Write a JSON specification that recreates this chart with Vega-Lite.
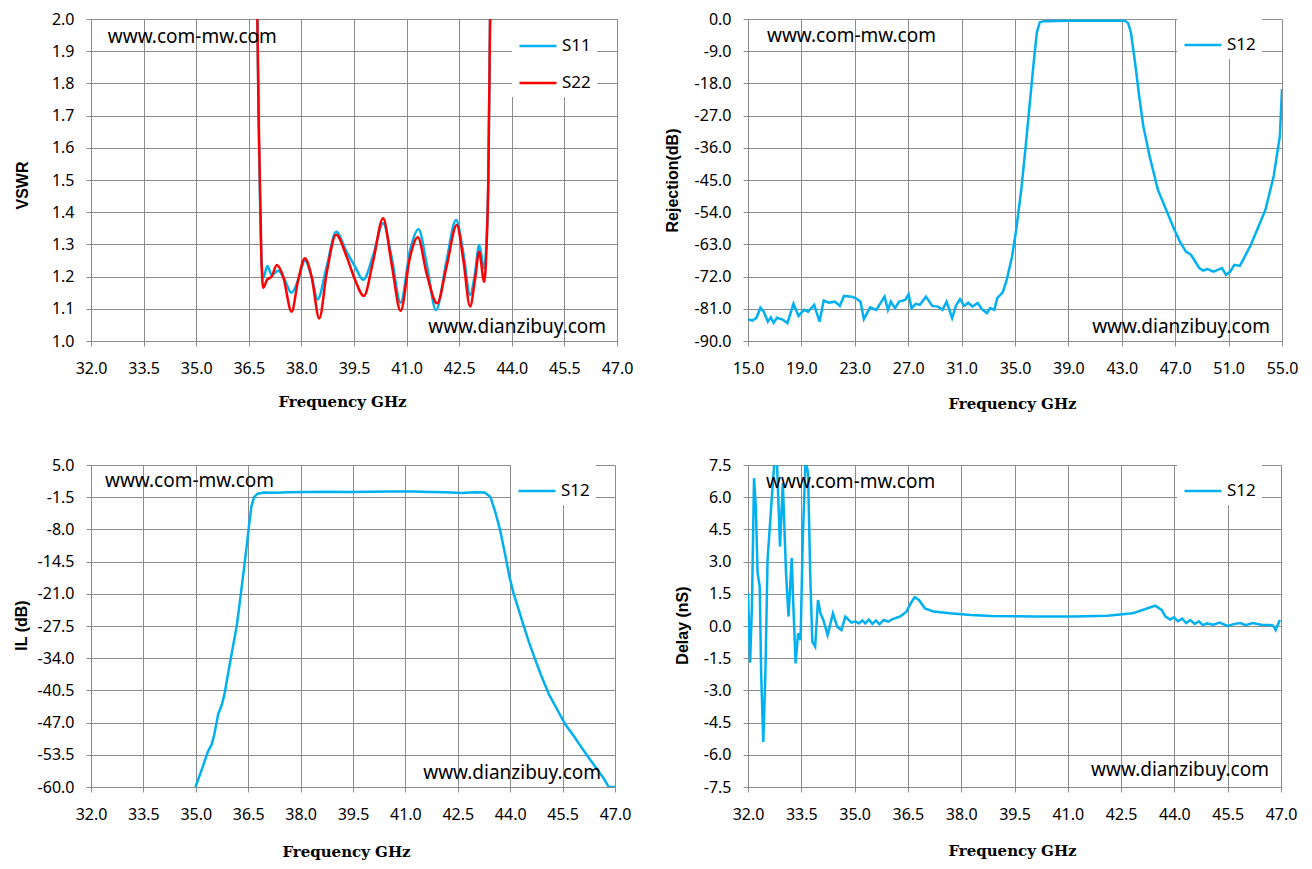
{
"$schema": "https://vega.github.io/schema/vega-lite/v6.json",
"background": "white",
"padding": {"left": 13, "top": 11, "right": 5, "bottom": 5},
"datasets": {
"vswr": [
{"f":36.72,"v":2.2,"s":"S11"},{"f":36.78,"v":1.7,"s":"S11"},{"f":36.86,"v":1.26,"s":"S11"},{"f":36.91,"v":1.195,"s":"S11"},{"f":37.03,"v":1.233,"s":"S11"},{"f":37.15,"v":1.205,"s":"S11"},{"f":37.34,"v":1.218,"s":"S11"},{"f":37.48,"v":1.2,"s":"S11"},{"f":37.72,"v":1.15,"s":"S11"},{"f":37.91,"v":1.19,"s":"S11"},{"f":38.1,"v":1.25,"s":"S11"},{"f":38.29,"v":1.2,"s":"S11"},{"f":38.46,"v":1.129,"s":"S11"},{"f":38.72,"v":1.231,"s":"S11"},{"f":38.99,"v":1.339,"s":"S11"},{"f":39.29,"v":1.277,"s":"S11"},{"f":39.53,"v":1.231,"s":"S11"},{"f":39.76,"v":1.19,"s":"S11"},{"f":40.05,"v":1.267,"s":"S11"},{"f":40.33,"v":1.366,"s":"S11"},{"f":40.57,"v":1.262,"s":"S11"},{"f":40.83,"v":1.119,"s":"S11"},{"f":41.1,"v":1.283,"s":"S11"},{"f":41.34,"v":1.347,"s":"S11"},{"f":41.57,"v":1.241,"s":"S11"},{"f":41.84,"v":1.096,"s":"S11"},{"f":42.14,"v":1.25,"s":"S11"},{"f":42.41,"v":1.376,"s":"S11"},{"f":42.62,"v":1.272,"s":"S11"},{"f":42.81,"v":1.143,"s":"S11"},{"f":42.95,"v":1.21,"s":"S11"},{"f":43.07,"v":1.298,"s":"S11"},{"f":43.21,"v":1.226,"s":"S11"},{"f":43.28,"v":1.314,"s":"S11"},{"f":43.33,"v":1.5,"s":"S11"},{"f":43.38,"v":2.0,"s":"S11"},{"f":43.42,"v":2.4,"s":"S11"},
{"f":36.72,"v":2.2,"s":"S22"},{"f":36.78,"v":1.7,"s":"S22"},{"f":36.86,"v":1.25,"s":"S22"},{"f":36.91,"v":1.165,"s":"S22"},{"f":37.02,"v":1.19,"s":"S22"},{"f":37.15,"v":1.2,"s":"S22"},{"f":37.3,"v":1.236,"s":"S22"},{"f":37.48,"v":1.2,"s":"S22"},{"f":37.72,"v":1.091,"s":"S22"},{"f":37.91,"v":1.19,"s":"S22"},{"f":38.1,"v":1.257,"s":"S22"},{"f":38.29,"v":1.2,"s":"S22"},{"f":38.51,"v":1.07,"s":"S22"},{"f":38.72,"v":1.21,"s":"S22"},{"f":38.99,"v":1.33,"s":"S22"},{"f":39.29,"v":1.262,"s":"S22"},{"f":39.53,"v":1.19,"s":"S22"},{"f":39.78,"v":1.14,"s":"S22"},{"f":40.05,"v":1.25,"s":"S22"},{"f":40.33,"v":1.381,"s":"S22"},{"f":40.57,"v":1.241,"s":"S22"},{"f":40.83,"v":1.094,"s":"S22"},{"f":41.1,"v":1.262,"s":"S22"},{"f":41.32,"v":1.322,"s":"S22"},{"f":41.57,"v":1.21,"s":"S22"},{"f":41.87,"v":1.117,"s":"S22"},{"f":42.14,"v":1.231,"s":"S22"},{"f":42.43,"v":1.36,"s":"S22"},{"f":42.62,"v":1.25,"s":"S22"},{"f":42.81,"v":1.107,"s":"S22"},{"f":42.95,"v":1.19,"s":"S22"},{"f":43.07,"v":1.277,"s":"S22"},{"f":43.21,"v":1.184,"s":"S22"},{"f":43.28,"v":1.293,"s":"S22"},{"f":43.33,"v":1.5,"s":"S22"},{"f":43.38,"v":2.0,"s":"S22"},{"f":43.42,"v":2.4,"s":"S22"}
],
"rej": [
{"f":15.0,"v":-83.9,"s":"S12"},{"f":15.31,"v":-84.3,"s":"S12"},{"f":15.62,"v":-83.6,"s":"S12"},{"f":15.93,"v":-80.7,"s":"S12"},{"f":16.18,"v":-81.8,"s":"S12"},{"f":16.49,"v":-84.6,"s":"S12"},{"f":16.71,"v":-83.4,"s":"S12"},{"f":16.92,"v":-84.9,"s":"S12"},{"f":17.17,"v":-83.5,"s":"S12"},{"f":17.64,"v":-84.1,"s":"S12"},{"f":17.95,"v":-85.0,"s":"S12"},{"f":18.41,"v":-79.6,"s":"S12"},{"f":18.78,"v":-83.0,"s":"S12"},{"f":19.19,"v":-81.3,"s":"S12"},{"f":19.5,"v":-81.8,"s":"S12"},{"f":19.96,"v":-79.9,"s":"S12"},{"f":20.36,"v":-84.6,"s":"S12"},{"f":20.67,"v":-78.7,"s":"S12"},{"f":21.05,"v":-79.3,"s":"S12"},{"f":21.51,"v":-79.0,"s":"S12"},{"f":21.88,"v":-80.2,"s":"S12"},{"f":22.19,"v":-77.4,"s":"S12"},{"f":22.75,"v":-77.6,"s":"S12"},{"f":23.06,"v":-78.0,"s":"S12"},{"f":23.43,"v":-79.0,"s":"S12"},{"f":23.68,"v":-83.9,"s":"S12"},{"f":24.15,"v":-80.6,"s":"S12"},{"f":24.61,"v":-81.3,"s":"S12"},{"f":24.92,"v":-79.4,"s":"S12"},{"f":25.23,"v":-77.6,"s":"S12"},{"f":25.48,"v":-81.3,"s":"S12"},{"f":25.7,"v":-79.0,"s":"S12"},{"f":26.01,"v":-80.8,"s":"S12"},{"f":26.32,"v":-79.0,"s":"S12"},{"f":26.78,"v":-78.5,"s":"S12"},{"f":27.03,"v":-76.9,"s":"S12"},{"f":27.25,"v":-80.8,"s":"S12"},{"f":27.56,"v":-79.6,"s":"S12"},{"f":27.87,"v":-79.9,"s":"S12"},{"f":28.33,"v":-77.6,"s":"S12"},{"f":28.8,"v":-80.2,"s":"S12"},{"f":29.26,"v":-80.4,"s":"S12"},{"f":29.57,"v":-81.3,"s":"S12"},{"f":29.88,"v":-79.0,"s":"S12"},{"f":30.29,"v":-83.6,"s":"S12"},{"f":30.57,"v":-80.2,"s":"S12"},{"f":30.88,"v":-78.3,"s":"S12"},{"f":31.19,"v":-80.2,"s":"S12"},{"f":31.5,"v":-79.3,"s":"S12"},{"f":31.81,"v":-80.4,"s":"S12"},{"f":32.21,"v":-79.4,"s":"S12"},{"f":32.52,"v":-81.1,"s":"S12"},{"f":32.89,"v":-82.2,"s":"S12"},{"f":33.14,"v":-80.8,"s":"S12"},{"f":33.45,"v":-81.3,"s":"S12"},{"f":33.67,"v":-78.0,"s":"S12"},{"f":34.08,"v":-76.4,"s":"S12"},{"f":34.38,"v":-72.9,"s":"S12"},{"f":34.78,"v":-66.4,"s":"S12"},{"f":35.09,"v":-58.9,"s":"S12"},{"f":35.47,"v":-47.7,"s":"S12"},{"f":35.78,"v":-36.4,"s":"S12"},{"f":36.09,"v":-24.3,"s":"S12"},{"f":36.4,"v":-12.1,"s":"S12"},{"f":36.64,"v":-3.7,"s":"S12"},{"f":36.86,"v":-0.9,"s":"S12"},{"f":37.17,"v":-0.6,"s":"S12"},{"f":39.03,"v":-0.5,"s":"S12"},{"f":41.05,"v":-0.5,"s":"S12"},{"f":43.22,"v":-0.5,"s":"S12"},{"f":43.47,"v":-1.1,"s":"S12"},{"f":43.68,"v":-3.7,"s":"S12"},{"f":43.99,"v":-12.1,"s":"S12"},{"f":44.3,"v":-21.5,"s":"S12"},{"f":44.61,"v":-29.9,"s":"S12"},{"f":45.08,"v":-38.3,"s":"S12"},{"f":45.7,"v":-47.7,"s":"S12"},{"f":46.32,"v":-53.3,"s":"S12"},{"f":46.94,"v":-58.9,"s":"S12"},{"f":47.4,"v":-62.6,"s":"S12"},{"f":47.81,"v":-65.0,"s":"S12"},{"f":48.18,"v":-65.9,"s":"S12"},{"f":48.8,"v":-69.6,"s":"S12"},{"f":49.11,"v":-70.3,"s":"S12"},{"f":49.42,"v":-69.9,"s":"S12"},{"f":49.88,"v":-70.6,"s":"S12"},{"f":50.5,"v":-69.6,"s":"S12"},{"f":50.81,"v":-71.5,"s":"S12"},{"f":51.12,"v":-70.6,"s":"S12"},{"f":51.43,"v":-68.7,"s":"S12"},{"f":51.84,"v":-69.0,"s":"S12"},{"f":52.21,"v":-66.4,"s":"S12"},{"f":52.67,"v":-63.1,"s":"S12"},{"f":53.14,"v":-58.9,"s":"S12"},{"f":53.76,"v":-53.3,"s":"S12"},{"f":54.38,"v":-43.9,"s":"S12"},{"f":54.84,"v":-32.7,"s":"S12"},{"f":55.0,"v":-19.6,"s":"S12"}
],
"il": [
{"f":34.99,"v":-60,"s":"S12"},{"f":35.17,"v":-56.5,"s":"S12"},{"f":35.35,"v":-52.8,"s":"S12"},{"f":35.45,"v":-51.5,"s":"S12"},{"f":35.53,"v":-49.4,"s":"S12"},{"f":35.64,"v":-45.3,"s":"S12"},{"f":35.74,"v":-43.5,"s":"S12"},{"f":35.82,"v":-41.3,"s":"S12"},{"f":35.94,"v":-36.5,"s":"S12"},{"f":36.06,"v":-31.8,"s":"S12"},{"f":36.12,"v":-29.5,"s":"S12"},{"f":36.18,"v":-27.1,"s":"S12"},{"f":36.29,"v":-21.0,"s":"S12"},{"f":36.41,"v":-14.2,"s":"S12"},{"f":36.51,"v":-8.1,"s":"S12"},{"f":36.59,"v":-3.4,"s":"S12"},{"f":36.67,"v":-1.5,"s":"S12"},{"f":36.77,"v":-0.8,"s":"S12"},{"f":36.95,"v":-0.55,"s":"S12"},{"f":37.3,"v":-0.6,"s":"S12"},{"f":37.65,"v":-0.5,"s":"S12"},{"f":38.2,"v":-0.45,"s":"S12"},{"f":38.84,"v":-0.4,"s":"S12"},{"f":39.4,"v":-0.45,"s":"S12"},{"f":40.02,"v":-0.4,"s":"S12"},{"f":40.6,"v":-0.35,"s":"S12"},{"f":41.2,"v":-0.35,"s":"S12"},{"f":41.7,"v":-0.45,"s":"S12"},{"f":42.15,"v":-0.5,"s":"S12"},{"f":42.62,"v":-0.65,"s":"S12"},{"f":42.98,"v":-0.5,"s":"S12"},{"f":43.27,"v":-0.55,"s":"S12"},{"f":43.43,"v":-1.4,"s":"S12"},{"f":43.57,"v":-4.4,"s":"S12"},{"f":43.71,"v":-8.1,"s":"S12"},{"f":43.83,"v":-12.2,"s":"S12"},{"f":43.98,"v":-17.6,"s":"S12"},{"f":44.1,"v":-21.0,"s":"S12"},{"f":44.22,"v":-23.7,"s":"S12"},{"f":44.37,"v":-27.1,"s":"S12"},{"f":44.54,"v":-30.8,"s":"S12"},{"f":44.69,"v":-33.8,"s":"S12"},{"f":44.87,"v":-37.2,"s":"S12"},{"f":45.11,"v":-41.3,"s":"S12"},{"f":45.34,"v":-44.3,"s":"S12"},{"f":45.58,"v":-47.4,"s":"S12"},{"f":45.82,"v":-49.7,"s":"S12"},{"f":46.05,"v":-52.1,"s":"S12"},{"f":46.29,"v":-54.5,"s":"S12"},{"f":46.53,"v":-56.8,"s":"S12"},{"f":46.7,"v":-58.5,"s":"S12"},{"f":46.82,"v":-60,"s":"S12"},{"f":47.0,"v":-60,"s":"S12"}
],
"delay": [
{"f":32.0,"v":1.52,"s":"S12"},{"f":32.06,"v":-1.71,"s":"S12"},{"f":32.11,"v":0.9,"s":"S12"},{"f":32.17,"v":6.89,"s":"S12"},{"f":32.22,"v":5.57,"s":"S12"},{"f":32.27,"v":2.46,"s":"S12"},{"f":32.33,"v":1.84,"s":"S12"},{"f":32.37,"v":-2.21,"s":"S12"},{"f":32.43,"v":-5.4,"s":"S12"},{"f":32.49,"v":-2.21,"s":"S12"},{"f":32.55,"v":3.08,"s":"S12"},{"f":32.64,"v":5.26,"s":"S12"},{"f":32.72,"v":7.13,"s":"S12"},{"f":32.76,"v":7.9,"s":"S12"},{"f":32.82,"v":7.44,"s":"S12"},{"f":32.9,"v":3.7,"s":"S12"},{"f":32.98,"v":6.66,"s":"S12"},{"f":33.07,"v":2.46,"s":"S12"},{"f":33.14,"v":0.44,"s":"S12"},{"f":33.23,"v":3.16,"s":"S12"},{"f":33.27,"v":1.21,"s":"S12"},{"f":33.34,"v":-1.74,"s":"S12"},{"f":33.41,"v":-0.34,"s":"S12"},{"f":33.48,"v":-0.65,"s":"S12"},{"f":33.54,"v":4.01,"s":"S12"},{"f":33.62,"v":7.75,"s":"S12"},{"f":33.69,"v":7.13,"s":"S12"},{"f":33.75,"v":2.46,"s":"S12"},{"f":33.81,"v":-0.73,"s":"S12"},{"f":33.89,"v":-0.96,"s":"S12"},{"f":33.97,"v":1.21,"s":"S12"},{"f":34.04,"v":0.59,"s":"S12"},{"f":34.12,"v":0.28,"s":"S12"},{"f":34.24,"v":-0.42,"s":"S12"},{"f":34.39,"v":0.59,"s":"S12"},{"f":34.51,"v":-0.03,"s":"S12"},{"f":34.63,"v":-0.19,"s":"S12"},{"f":34.74,"v":0.44,"s":"S12"},{"f":34.91,"v":0.16,"s":"S12"},{"f":35.02,"v":0.22,"s":"S12"},{"f":35.12,"v":0.12,"s":"S12"},{"f":35.22,"v":0.26,"s":"S12"},{"f":35.3,"v":0.12,"s":"S12"},{"f":35.4,"v":0.3,"s":"S12"},{"f":35.5,"v":0.1,"s":"S12"},{"f":35.6,"v":0.26,"s":"S12"},{"f":35.7,"v":0.08,"s":"S12"},{"f":35.82,"v":0.28,"s":"S12"},{"f":35.95,"v":0.2,"s":"S12"},{"f":36.05,"v":0.31,"s":"S12"},{"f":36.28,"v":0.44,"s":"S12"},{"f":36.46,"v":0.67,"s":"S12"},{"f":36.58,"v":1.06,"s":"S12"},{"f":36.69,"v":1.34,"s":"S12"},{"f":36.81,"v":1.21,"s":"S12"},{"f":36.98,"v":0.82,"s":"S12"},{"f":37.22,"v":0.67,"s":"S12"},{"f":37.68,"v":0.59,"s":"S12"},{"f":38.27,"v":0.51,"s":"S12"},{"f":38.85,"v":0.47,"s":"S12"},{"f":40.02,"v":0.44,"s":"S12"},{"f":41.19,"v":0.44,"s":"S12"},{"f":42.12,"v":0.48,"s":"S12"},{"f":42.82,"v":0.59,"s":"S12"},{"f":43.17,"v":0.78,"s":"S12"},{"f":43.46,"v":0.95,"s":"S12"},{"f":43.64,"v":0.75,"s":"S12"},{"f":43.75,"v":0.44,"s":"S12"},{"f":43.88,"v":0.3,"s":"S12"},{"f":43.99,"v":0.4,"s":"S12"},{"f":44.1,"v":0.22,"s":"S12"},{"f":44.22,"v":0.34,"s":"S12"},{"f":44.33,"v":0.14,"s":"S12"},{"f":44.45,"v":0.28,"s":"S12"},{"f":44.57,"v":0.1,"s":"S12"},{"f":44.69,"v":0.22,"s":"S12"},{"f":44.8,"v":0.04,"s":"S12"},{"f":44.92,"v":0.12,"s":"S12"},{"f":45.1,"v":0.06,"s":"S12"},{"f":45.27,"v":0.16,"s":"S12"},{"f":45.5,"v":0.0,"s":"S12"},{"f":45.7,"v":0.1,"s":"S12"},{"f":45.86,"v":0.14,"s":"S12"},{"f":46.0,"v":0.04,"s":"S12"},{"f":46.21,"v":0.14,"s":"S12"},{"f":46.44,"v":0.06,"s":"S12"},{"f":46.68,"v":0.05,"s":"S12"},{"f":46.78,"v":0.02,"s":"S12"},{"f":46.85,"v":-0.19,"s":"S12"},{"f":46.92,"v":0.1,"s":"S12"},{"f":46.97,"v":0.28,"s":"S12"}
]
},
"columns": 2,
"bounds": "flush",
"spacing": {"row": 124, "column": 131},
"resolve": {"scale": {"color": "independent", "x": "independent", "y": "independent"}, "legend": {"color": "independent"}},
"concat": [
{
"width": 526, "height": 322,
"layer": [
{"data": {"name": "vswr"},
"mark": {"type": "line", "clip": true, "strokeWidth": 2.5, "interpolate": "monotone"},
"encoding": {
"x": {"field": "f", "type": "quantitative", "scale": {"domain": [32, 47], "nice": false, "zero": false}, "axis": {"values": [32, 33.5, 35, 36.5, 38, 39.5, 41, 42.5, 44, 45.5, 47], "tickCount": 30, "format": ".1f", "title": "Frequency GHz", "titleX": 251, "titleY": 60}},
"y": {"field": "v", "type": "quantitative", "scale": {"domain": [1, 2], "nice": false, "zero": false}, "axis": {"values": [1, 1.1, 1.2, 1.3, 1.4, 1.5, 1.6, 1.7, 1.8, 1.9, 2], "tickCount": 30, "format": ".1f", "title": "VSWR", "titleX": -69, "titleY": 166}},
"color": {"field": "s", "type": "nominal", "scale": {"domain": ["S11", "S22"], "range": ["#00b0f0", "#ff0000"]}, "legend": {"legendX": 421, "legendY": 1}}
}},
{"data": {"values": [{}]}, "mark": {"type": "text", "text": "www.com-mw.com", "align": "left", "baseline": "middle", "font": "Noto Sans", "fontSize": 19, "color": "#000"}, "encoding": {"x": {"datum": 32.48}, "y": {"datum": 1.944}}},
{"data": {"values": [{}]}, "mark": {"type": "text", "text": "www.dianzibuy.com", "align": "right", "baseline": "middle", "font": "Noto Sans", "fontSize": 19, "color": "#000"}, "encoding": {"x": {"datum": 46.69}, "y": {"datum": 1.043}}}
]
},
{
"width": 534, "height": 322,
"layer": [
{"data": {"name": "rej"},
"mark": {"type": "line", "clip": true, "strokeWidth": 2.5},
"encoding": {
"x": {"field": "f", "type": "quantitative", "scale": {"domain": [15, 55], "nice": false, "zero": false}, "axis": {"values": [15, 19, 23, 27, 31, 35, 39, 43, 47, 51, 55], "tickCount": 30, "format": ".1f", "title": "Frequency GHz", "titleX": 264, "titleY": 62}},
"y": {"field": "v", "type": "quantitative", "scale": {"domain": [-90, 0], "nice": false, "zero": false}, "axis": {"values": [-90, -81, -72, -63, -54, -45, -36, -27, -18, -9, 0], "tickCount": 30, "format": ".1f", "title": "Rejection(dB)", "titleX": -76, "titleY": 161}},
"color": {"field": "s", "type": "nominal", "scale": {"domain": ["S12"], "range": ["#00b0f0"]}, "legend": {"legendX": 429, "legendY": 0}}
}},
{"data": {"values": [{}]}, "mark": {"type": "text", "text": "www.com-mw.com", "align": "left", "baseline": "middle", "font": "Noto Sans", "fontSize": 19, "color": "#000"}, "encoding": {"x": {"datum": 16.42}, "y": {"datum": -4.77}}},
{"data": {"values": [{}]}, "mark": {"type": "text", "text": "www.dianzibuy.com", "align": "right", "baseline": "middle", "font": "Noto Sans", "fontSize": 19, "color": "#000"}, "encoding": {"x": {"datum": 54.1}, "y": {"datum": -86.1}}}
]
},
{
"width": 524, "height": 322,
"layer": [
{"data": {"name": "il"},
"mark": {"type": "line", "clip": true, "strokeWidth": 2.5},
"encoding": {
"x": {"field": "f", "type": "quantitative", "scale": {"domain": [32, 47], "nice": false, "zero": false}, "axis": {"values": [32, 33.5, 35, 36.5, 38, 39.5, 41, 42.5, 44, 45.5, 47], "tickCount": 30, "format": ".1f", "title": "Frequency GHz", "titleX": 255, "titleY": 64}},
"y": {"field": "v", "type": "quantitative", "scale": {"domain": [-60, 5], "nice": false, "zero": false}, "axis": {"values": [-60, -53.5, -47, -40.5, -34, -27.5, -21, -14.5, -8, -1.5, 5], "tickCount": 30, "format": ".1f", "title": "IL (dB)", "titleX": -70, "titleY": 160}},
"color": {"field": "s", "type": "nominal", "scale": {"domain": ["S12"], "range": ["#00b0f0"]}, "legend": {"legendX": 420, "legendY": 0}}
}},
{"data": {"values": [{}]}, "mark": {"type": "text", "text": "www.com-mw.com", "align": "left", "baseline": "middle", "font": "Noto Sans", "fontSize": 19, "color": "#000"}, "encoding": {"x": {"datum": 32.4}, "y": {"datum": 1.75}}},
{"data": {"values": [{}]}, "mark": {"type": "text", "text": "www.dianzibuy.com", "align": "right", "baseline": "middle", "font": "Noto Sans", "fontSize": 19, "color": "#000"}, "encoding": {"x": {"datum": 46.6}, "y": {"datum": -57.2}}}
]
},
{
"width": 533, "height": 322,
"layer": [
{"data": {"name": "delay"},
"mark": {"type": "line", "clip": true, "strokeWidth": 2.5},
"encoding": {
"x": {"field": "f", "type": "quantitative", "scale": {"domain": [32, 47], "nice": false, "zero": false}, "axis": {"values": [32, 33.5, 35, 36.5, 38, 39.5, 41, 42.5, 44, 45.5, 47], "tickCount": 30, "format": ".1f", "title": "Frequency GHz", "titleX": 264, "titleY": 63}},
"y": {"field": "v", "type": "quantitative", "scale": {"domain": [-7.5, 7.5], "nice": false, "zero": false}, "axis": {"values": [-7.5, -6, -4.5, -3, -1.5, 0, 1.5, 3, 4.5, 6, 7.5], "tickCount": 30, "format": ".1f", "title": "Delay (nS)", "titleX": -66, "titleY": 160}},
"color": {"field": "s", "type": "nominal", "scale": {"domain": ["S12"], "range": ["#00b0f0"]}, "legend": {"legendX": 429, "legendY": 0}}
}},
{"data": {"values": [{}]}, "mark": {"type": "text", "text": "www.com-mw.com", "align": "left", "baseline": "middle", "font": "Noto Sans", "fontSize": 19, "color": "#000"}, "encoding": {"x": {"datum": 32.51}, "y": {"datum": 6.71}}},
{"data": {"values": [{}]}, "mark": {"type": "text", "text": "www.dianzibuy.com", "align": "right", "baseline": "middle", "font": "Noto Sans", "fontSize": 19, "color": "#000"}, "encoding": {"x": {"datum": 46.66}, "y": {"datum": -6.71}}}
]
}
],
"config": {
"locale": {"number": {"decimal": ".", "thousands": ",", "grouping": [3], "currency": ["$", ""], "minus": "-"}},
"view": {"stroke": null},
"axis": {"gridColor": "#8c8c8c", "gridWidth": 1, "gridOpacity": 1, "domainColor": "#8c8c8c", "tickColor": "#8c8c8c", "tickSize": 5, "labelColor": "#000", "labelFont": "Noto Sans", "labelFontSize": 16, "labelFlush": false, "labelOverlap": false, "titleColor": "#000"},
"axisX": {"labelPadding": 14, "titleFont": "DejaVu Serif", "titleFontSize": 15, "titleFontWeight": "bold", "titleBaseline": "middle"},
"axisY": {"labelPadding": 12, "titleFont": "Liberation Sans", "titleFontSize": 16, "titleFontWeight": "bold", "titleBaseline": "middle"},
"legend": {"orient": "none", "title": null, "fillColor": "white", "padding": 6, "symbolType": "stroke", "symbolSize": 1369, "symbolStrokeWidth": 2.5, "labelFont": "Noto Sans", "labelFontSize": 17, "labelColor": "#000", "labelOffset": 4, "rowPadding": 9}
}
}
